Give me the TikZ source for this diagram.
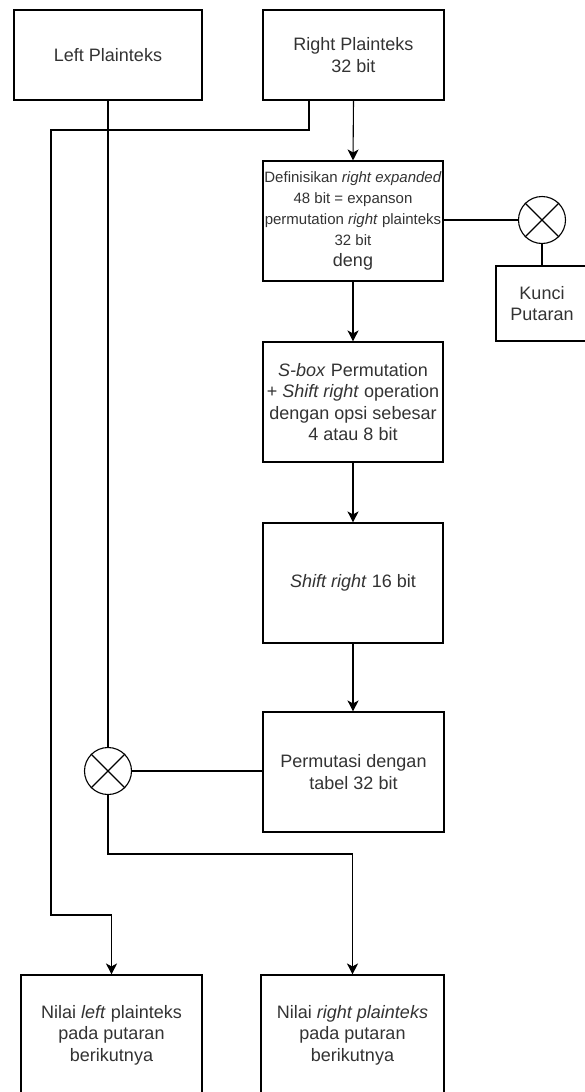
\documentclass[tikz,border=0pt]{standalone}
\usepackage{fontspec}
\setmainfont{Liberation Sans}
\usetikzlibrary{arrows.meta}
\begin{document}
\begin{tikzpicture}[x=1pt,y=-1pt,line width=1.1pt,
  box/.style={draw,rectangle,inner sep=0pt,align=center,text=black!80,
    font=\fontsize{18}{21.6}\selectfont},
  xor/.style={draw,circle,inner sep=0pt,minimum size=47pt},
  arr/.style={-{Stealth[length=11pt,width=11pt,inset=3pt]}}]
\useasboundingbox[fill=white] (0,0) rectangle (585,1092);
% boxes
\node[box,minimum width=188pt,minimum height=90pt] (leftpt) at (108,55) {Left Plainteks};
\node[box,minimum width=181pt,minimum height=90pt] (rightpt) at (353.5,55) {Right Plainteks\\32 bit};
\node[box,minimum width=180pt,minimum height=120pt,font=\fontsize{15}{21}\selectfont] (expand) at (353,221)
  {Definisikan \textit{right expanded}\\48 bit = expanson\\permutation \textit{right} plainteks\\32 bit\\{\fontsize{18}{21}\selectfont deng}};
\node[xor] (xorkey) at (542,220) {};
\node[box,minimum width=92pt,minimum height=75pt] (kunci) at (542,303.5) {Kunci\\Putaran};
\node[box,minimum width=180pt,minimum height=120pt] (sbox) at (353,402)
  {\textit{S-box} Permutation\\+ \textit{Shift right} operation\\dengan opsi sebesar\\4 atau 8 bit};
\node[box,minimum width=180pt,minimum height=120pt] (shift) at (353,583) {\textit{Shift right} 16 bit};
\node[box,minimum width=181pt,minimum height=120pt] (perm) at (353.5,772) {Permutasi dengan\\tabel 32 bit};
\node[xor] (xorleft) at (108,771) {};
\node[box,minimum width=181pt,minimum height=120pt] (nextleft) at (111.5,1035)
  {Nilai \textit{left} plainteks\\pada putaran\\berikutnya};
\node[box,minimum width=183pt,minimum height=120pt] (nextright) at (352.5,1035)
  {Nilai \textit{right plainteks}\\pada putaran\\berikutnya};
% crosses in the xor circles
\draw (xorkey.north west)--(xorkey.south east) (xorkey.north east)--(xorkey.south west);
\draw (xorleft.north west)--(xorleft.south east) (xorleft.north east)--(xorleft.south west);
% connectors
\coordinate (r1) at (309,100);
\draw[arr] (r1)--(309,130)--(51,130)--(51,915)--(nextleft.north |- 0,915)--(nextleft.north);
\draw (leftpt.south)--(xorleft.north);
\draw[arr] (rightpt.south)--(expand.north);
\draw (expand.east |- xorkey)--(xorkey.west);
\draw (xorkey.south)--(kunci.north);
\draw[arr] (expand.south)--(sbox.north);
\draw[arr] (sbox.south)--(shift.north);
\draw[arr] (shift.south)--(perm.north -| shift.south);
\draw (perm.west |- xorleft)--(xorleft.east);
\draw[arr] (xorleft.south)--(108,854)--(nextright.north |- 0,854)--(nextright.north);
\end{tikzpicture}
\end{document}
